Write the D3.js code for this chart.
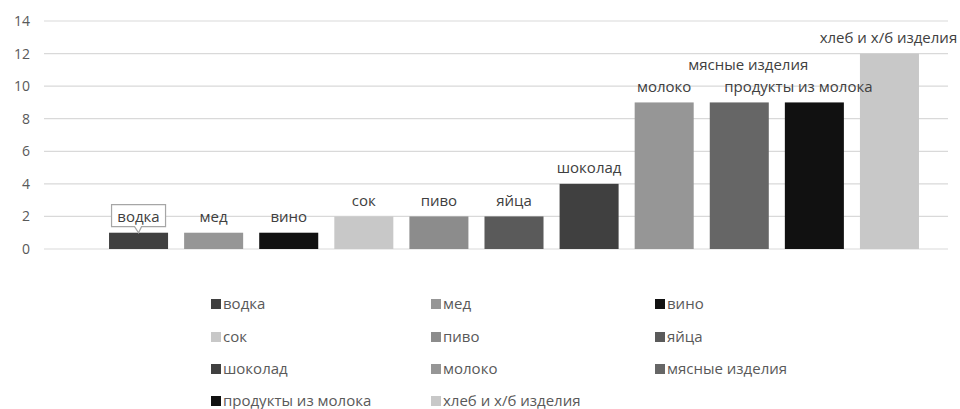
<!DOCTYPE html>
<html><head><meta charset="utf-8">
<script src="https://cdn.jsdelivr.net/npm/d3@7/dist/d3.min.js"></script>
<style>body{margin:0;background:#fff}svg{display:block}text{font-family:"Open Sans","DejaVu Sans",sans-serif}</style>
</head><body><svg id="c" width="960" height="409"></svg>
<script>
const categories = ["водка","мед","вино","сок","пиво","яйца","шоколад","молоко","мясные изделия","продукты из молока","хлеб и х/б изделия"];
const values = [1,1,1,2,2,2,4,9,9,9,12];
const colors = ["#404040","#969696","#111111","#c8c8c8","#8c8c8c","#5a5a5a","#404040","#969696","#666666","#111111","#c8c8c8"];
const yTicks = [0,2,4,6,8,10,12,14];

const svg = d3.select("#c");
const x = d3.scaleBand().domain(categories).range([101, 927]).paddingInner(0.214).paddingOuter(0.107);
const y = d3.scaleLinear().domain([0,14]).range([249, 21]);

// grid
svg.append("g").selectAll("line").data(yTicks).join("line")
  .attr("x1",44).attr("x2",948).attr("y1",d=>y(d)).attr("y2",d=>y(d))
  .attr("stroke","#d9d9d9").attr("stroke-width",1.2);

const yAxis = d3.axisLeft(y).tickValues(yTicks).tickSize(0).tickPadding(0);
const ga = svg.append("g").attr("transform","translate(30,0)").call(yAxis);
ga.select(".domain").remove();
ga.selectAll("text").attr("font-size",14).attr("fill","#595959").attr("font-family","'Open Sans',sans-serif");

// bars
svg.append("g").selectAll("rect").data(categories).join("rect")
  .attr("x",d=>x(d)).attr("width",x.bandwidth())
  .attr("y",(d,i)=>y(values[i])).attr("height",(d,i)=>y(0)-y(values[i]))
  .attr("fill",(d,i)=>colors[i]);

// labels
const adj = {"мясные изделия":{dx:9,dy:-22},"продукты из молока":{dx:-16,dy:0},"хлеб и х/б изделия":{dx:-1,dy:0}};
const lg = svg.append("g");
categories.forEach((c,i)=>{
  const a = adj[c]||{dx:0,dy:0};
  const cx = x(c)+x.bandwidth()/2 + a.dx;
  const cy = y(values[i]) - 16 + a.dy;
  if(i===0){
    const bw=54,bh=22, top=cy-12;
    const p = `M${cx-bw/2},${top} H${cx+bw/2} V${top+bh} H${cx+3} L${cx},${top+bh+6} L${cx-4},${top+bh} H${cx-bw/2} Z`;
    lg.append("path").attr("d",p).attr("fill","#fff").attr("stroke","#a6a6a6").attr("stroke-width",1.2);
  }
  lg.append("text").attr("x",cx).attr("y",cy).attr("dy","0.35em").attr("text-anchor","middle")
    .attr("font-size",15).attr("fill","#404040").text(c);
});

// legend
const colX = [211,431,655];
const rowY = [304,337,369,401];
const leg = svg.append("g");
categories.forEach((c,i)=>{
  const cx = colX[i%3], cy = rowY[Math.floor(i/3)];
  leg.append("rect").attr("x",cx).attr("y",cy-5).attr("width",10).attr("height",10).attr("fill",colors[i]);
  leg.append("text").attr("x",cx+12).attr("y",cy).attr("dy","0.35em").attr("font-size",15).attr("fill","#595959").text(c);
});
</script></body></html>
